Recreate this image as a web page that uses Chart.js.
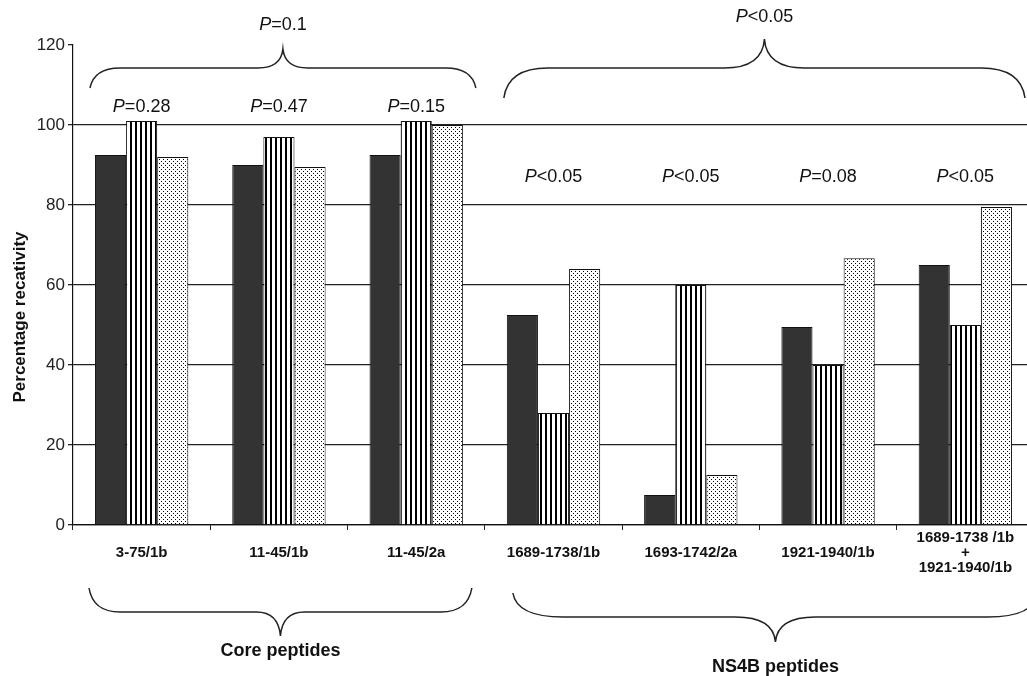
<!DOCTYPE html>
<html>
<head>
<meta charset="utf-8">
<script src="https://cdn.jsdelivr.net/npm/chart.js@4/dist/chart.umd.min.js"></script>
<style>
  html, body { margin: 0; padding: 0; background: #fff; overflow: hidden; }
  #wrap { width: 1050px; height: 676px; }
</style>
</head>
<body>
<div id="wrap"><canvas id="myChart" width="1050" height="676"></canvas></div>
<script>
// dados
var peptideos = ['3-75/1b', '11-45/1b', '11-45/2a', '1689-1738/1b', '1693-1742/2a', '1921-1940/1b',
                 ['1689-1738 /1b', '+', '1921-1940/1b']];
var serieEscura = [92.5, 90, 92.5, 52.5, 7.5, 49.5, 65];
var serieListrada = [101, 97, 101, 28, 60, 40, 50];
var seriePontilhada = [92, 89.5, 100, 64, 12.5, 66.7, 79.5];
var valoresP = ['=0.28', '=0.47', '=0.15', '<0.05', '<0.05', '=0.08', '<0.05'];
var gruposNomes = ['Core peptides', 'NS4B peptides'];
var gruposInicio = [0, 3];
var gruposFim = [2, 6];
var gruposP = ['=0.1', '<0.05'];
var ticksY = [0, 20, 40, 60, 80, 100, 120];
var tituloY = 'Percentage recativity';

var fonte = 'Arial, "Liberation Sans", sans-serif';
var canvas = document.getElementById('myChart');
var ctx = canvas.getContext('2d');

function padraoListras() {
    var c = document.createElement('canvas');
    c.width = 5; c.height = 5;
    var g = c.getContext('2d');
    g.fillStyle = '#fff'; g.fillRect(0, 0, 5, 5);
    g.fillStyle = '#000'; g.fillRect(0, 0, 2, 5);
    return ctx.createPattern(c, 'repeat');
}

function padraoPontos() {
    var c = document.createElement('canvas');
    c.width = 4; c.height = 4;
    var g = c.getContext('2d');
    g.fillStyle = '#fff'; g.fillRect(0, 0, 4, 4);
    g.fillStyle = '#000';
    g.fillRect(1, 1, 1, 1);
    g.fillRect(3, 3, 1, 1);
    return ctx.createPattern(c, 'repeat');
}

function escreveP(c, resto, cx, cy) {
    c.textBaseline = 'middle';
    c.textAlign = 'left';
    c.font = 'italic 18px ' + fonte;
    var wP = c.measureText('P').width;
    c.font = '18px ' + fonte;
    var wR = c.measureText(resto).width;
    var x0 = cx - (wP + wR) / 2;
    c.font = 'italic 18px ' + fonte;
    c.fillText('P', x0, cy);
    c.font = '18px ' + fonte;
    c.fillText(resto, x0 + wP, cy);
}

function chave(c, x0, x1, yEnd, yH, yTip, r, r2) {
    var xm = (x0 + x1) / 2;
    c.beginPath();
    c.moveTo(x0, yEnd);
    c.quadraticCurveTo(x0 + 4, yH, x0 + r, yH);
    c.lineTo(xm - r2, yH);
    c.quadraticCurveTo(xm - 2, yH, xm, yTip);
    c.quadraticCurveTo(xm + 2, yH, xm + r2, yH);
    c.lineTo(x1 - r, yH);
    c.quadraticCurveTo(x1 - 4, yH, x1, yEnd);
    c.stroke();
}

// chaves e rotulos P
var anotacoes = {
    id: 'anotacoes',
    afterDraw: function(chart, args, opts) {
        var c = chart.ctx, x = chart.scales.x, y = chart.scales.y;
        var larg = x.getPixelForValue(1) - x.getPixelForValue(0);
        c.save();
        c.fillStyle = '#111';
        c.strokeStyle = '#222';
        c.lineWidth = 1.5;

        valoresP.forEach(function(p, i) {
            var g = i <= gruposFim[0] ? 0 : 1;
            escreveP(c, p, x.getPixelForValue(i), y.getPixelForValue(opts.nivelP[g]));
        });

        opts.topo.forEach(function(k, g) {
            var x0 = x.getPixelForValue(gruposInicio[g]) - larg / 2 + k.inL;
            var x1 = x.getPixelForValue(gruposFim[g]) + larg / 2 - k.inR;
            chave(c, x0, x1, k.yEnd, k.yH, k.yTip, k.r, k.r2);
            escreveP(c, gruposP[g], (x0 + x1) / 2, k.yTexto);
        });

        opts.base.forEach(function(k, g) {
            var x0 = x.getPixelForValue(gruposInicio[g]) - larg / 2 + k.inL;
            var x1 = x.getPixelForValue(gruposFim[g]) + larg / 2 - k.inR;
            chave(c, x0, x1, k.yEnd, k.yH, k.yTip, k.r, k.r2);
            c.font = 'bold 18px ' + fonte;
            c.textAlign = 'center';
            c.textBaseline = 'middle';
            c.fillText(gruposNomes[g], (x0 + x1) / 2, k.yTexto);
        });

        // titulo do eixo y
        c.translate(20, 317);
        c.rotate(-Math.PI / 2);
        c.font = 'bold 17px ' + fonte;
        c.textAlign = 'center';
        c.textBaseline = 'middle';
        c.fillText(tituloY, 0, 0);
        c.restore();
    }
};

var chart = new Chart(ctx, {
    type: 'bar',
    data: {
        labels: peptideos,
        datasets: [
            { label: 'A', data: serieEscura, backgroundColor: '#333333', borderColor: '#111', borderWidth: 1 },
            { label: 'B', data: serieListrada, backgroundColor: padraoListras(), borderColor: '#111', borderWidth: 1 },
            { label: 'C', data: seriePontilhada, backgroundColor: padraoPontos(), borderColor: '#111', borderWidth: 1 }
        ]
    },
    options: {
        responsive: false,
        animation: false,
        devicePixelRatio: 1,
        categoryPercentage: 0.68,
        barPercentage: 1,
        layout: { padding: { top: 45, right: 16, left: 0, bottom: 0 } },
        plugins: {
            legend: { display: false },
            tooltip: { enabled: false },
            anotacoes: {
                nivelP: [104.5, 87],
                topo: [
                    { inL: 17, inR: 9, yEnd: 88, yH: 68, yTip: 49, r: 30, r2: 25, yTexto: 25 },
                    { inL: 19, inR: 9, yEnd: 98, yH: 68, yTip: 39, r: 44, r2: 40, yTexto: 17 }
                ],
                base: [
                    { inL: 16, inR: 13, yEnd: 588, yH: 612, yTip: 636, r: 31, r2: 24, yTexto: 651 },
                    { inL: 28, inR: -4, yEnd: 593, yH: 617, yTip: 642, r: 50, r2: 40, yTexto: 667 }
                ]
            }
        },
        scales: {
            x: {
                afterFit: function(s) { s.height = 151; },
                grid: { display: true, drawOnChartArea: false, drawTicks: true, tickLength: 5, offset: true, color: '#222', tickColor: '#222' },
                border: { display: true, color: '#111', width: 1.2 },
                ticks: {
                    autoSkip: false, maxRotation: 0, minRotation: 0, padding: 8,
                    crossAlign: 'center',
                    color: '#111',
                    font: { family: fonte, size: 15, weight: 'bold', lineHeight: 1.0 }
                }
            },
            y: {
                min: 0,
                max: 120,
                afterFit: function(s) { s.width = 73; },
                afterBuildTicks: function(s) { s.ticks = ticksY.map(function(v) { return { value: v }; }); },
                grid: {
                    color: function(c) { return c.tick && c.tick.value === 120 ? 'rgba(0,0,0,0)' : '#222'; },
                    tickColor: '#222',
                    lineWidth: 1.3,
                    tickLength: 5
                },
                border: { display: true, color: '#111', width: 1.2 },
                ticks: {
                    padding: 3,
                    color: '#222',
                    font: { family: fonte, size: 17 }
                }
            }
        }
    },
    plugins: [anotacoes]
});
</script>
</body>
</html>
